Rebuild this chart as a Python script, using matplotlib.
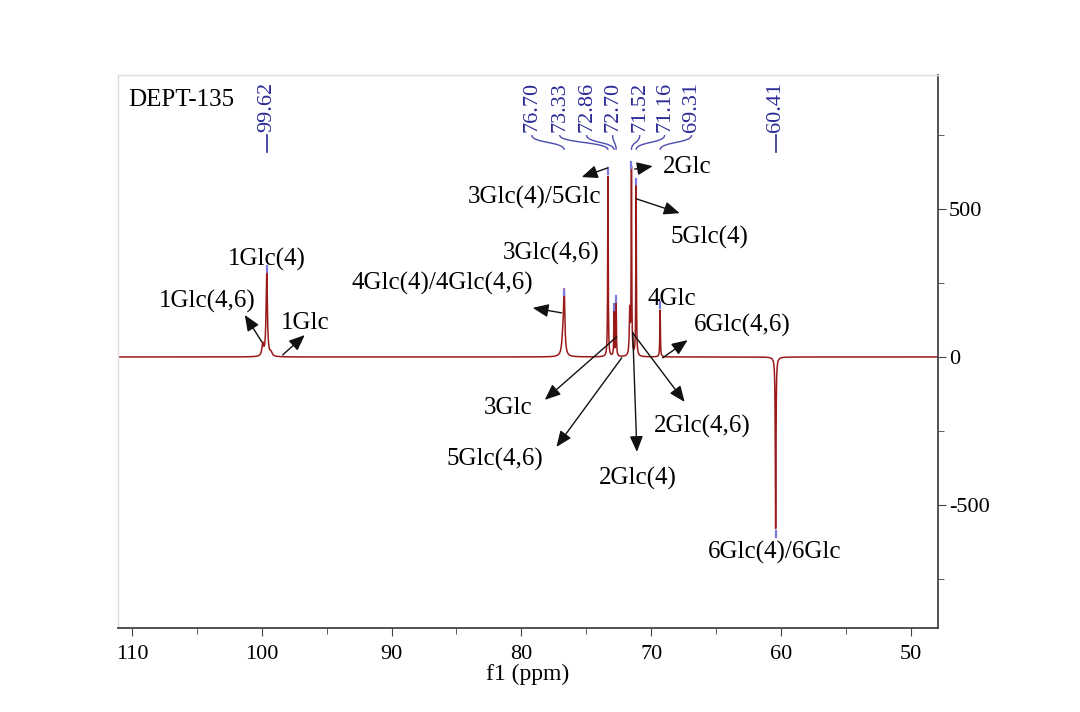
import numpy as np
import matplotlib
matplotlib.use("Agg")
import matplotlib.pyplot as plt
from matplotlib.path import Path
from matplotlib.patches import PathPatch

plt.rcParams['font.family'] = ['Liberation Serif', 'DejaVu Serif']
plt.rcParams['axes.unicode_minus'] = False

# ---- data: peaks (ppm, intensity, FWHM) ----
peak_ppm = [99.93, 99.62, 99.30, 76.80, 76.70, 73.33, 72.86, 72.70, 71.65, 71.52, 71.16, 69.31, 60.41]
peak_height = [40, 280, 12, 60, 200, 610, 150, 178, 150, 630, 575, 158, -580]
peak_fwhm = [0.15, 0.12, 0.2, 0.2, 0.12, 0.05, 0.05, 0.05, 0.08, 0.05, 0.05, 0.05, 0.06]

# picked peak labels (blue)
picked_ppm = [99.62, 76.70, 73.33, 72.86, 72.70, 71.52, 71.16, 69.31, 60.41]
picked_text = ["99.62", "76.70", "73.33", "72.86", "72.70", "71.52", "71.16", "69.31", "60.41"]
picked_height = [280, 200, 610, 150, 178, 630, 575, 158, -580]
# label x position (ppm) for the grouped labels
picked_label_x = [99.62, 79.20, 77.05, 74.97, 72.97, 70.88, 68.96, 66.88, 60.41]

# assignment annotations: text, text position, arrow tail, arrow head
ann_text = ["1Glc(4)", "1Glc(4,6)", "1Glc", "4Glc(4)/4Glc(4,6)", "3Glc(4,6)", "3Glc(4)/5Glc",
            "2Glc", "5Glc(4)", "4Glc", "6Glc(4,6)", "3Glc", "5Glc(4,6)", "2Glc(4)",
            "2Glc(4,6)", "6Glc(4)/6Glc"]
ann_pos = [(99.62, 328), (104.17, 186), (96.69, 115), (86.06, 250), (77.70, 351), (78.97, 540),
           (67.26, 642), (65.49, 405), (68.40, 195), (62.95, 108), (81.05, -172), (82.06, -348),
           (71.04, -409), (66.03, -236), (60.48, -659)]
ann_tail = [None, (100.0, 51), (98.39, 7), (76.89, 149), None, (73.35, 639),
            (71.27, 635), (71.11, 534), None, (69.11, -3), (72.66, 68), (72.27, -3),
            (71.42, 84), (71.42, 81), None]
ann_head = [None, (101.31, 142), (96.69, 74), (79.13, 166), None, (75.35, 608),
            (69.88, 645), (67.80, 486), None, (67.19, 57), (78.20, -145), (77.30, -304),
            (71.10, -321), (67.42, -152), None]

x_ticks = [110, 100, 90, 80, 70, 60, 50]
y_ticks = [-500, 0, 500]

# ---- spectrum from peak list ----
x = np.linspace(111.08, 47.9, 40000)
y = np.zeros_like(x)
for p, h, w in zip(peak_ppm, peak_height, peak_fwhm):
    hw = w / 2.0
    y += h * hw**2 / ((x - p)**2 + hw**2)

fig = plt.figure(figsize=(10.8, 7.12), dpi=100)
ax = fig.add_axes([118/1080, 1-628/712, (938-118)/1080, (628-75)/712])
ax.plot(x, y, color='#9a1a1a', lw=1.1)
ax.set_xlim(111.08, 47.9)
ax.set_ylim(-916, 953)

ax.set_xticks(x_ticks)
ax.set_xticks(np.arange(50, 111, 5), minor=True)
ax.yaxis.tick_right()
ax.set_yticks(y_ticks)
ax.set_yticks([-750, -250, 250, 750], minor=True)
ax.tick_params(axis='x', which='major', direction='out', length=6, labelsize=16, pad=6, color='#444444')
ax.tick_params(axis='x', which='minor', direction='out', length=4, color='#444444')
ax.tick_params(axis='y', which='major', direction='out', length=6, labelsize=16, pad=2, color='#444444')
ax.tick_params(axis='y', which='minor', direction='out', length=4, color='#444444')
ax.set_xlabel('f1 (ppm)', fontsize=17, labelpad=0)

for s in ['top', 'left']:
    ax.spines[s].set_color('#dcdcdc')
    ax.spines[s].set_linewidth(1.0)
for s in ['bottom', 'right']:
    ax.spines[s].set_color('#444444')
    ax.spines[s].set_linewidth(1.3)

ax.text(110.33, 868, 'DEPT-135', fontsize=18, ha='left', va='center')

# blue peak labels
blue = '#2a2a96'
for p, t, h, lx in zip(picked_ppm, picked_text, picked_height, picked_label_x):
    ax.text(lx, 760, t, rotation=90, fontsize=16, color=blue, ha='center', va='bottom')
    if abs(lx - p) < 0.01:
        ax.plot([p, p], [750, 693], color=blue, lw=1.2)
    else:
        verts = [(lx, 750), (lx, 722), (p, 728), (p, 700)]
        path = Path(verts, [Path.MOVETO, Path.CURVE4, Path.CURVE4, Path.CURVE4])
        ax.add_patch(PathPatch(path, fill=False, color='#4b4bb0', lw=1.0))
    # small marker at the peak tip
    if h > 0:
        ax.plot([p, p], [h + 8, h + 28], color='#7a7ae0', lw=1.6)
    else:
        ax.plot([p, p], [h - 8, h - 28], color='#7a7ae0', lw=1.6)

# assignments
for t, pos, tail, head in zip(ann_text, ann_pos, ann_tail, ann_head):
    ax.text(pos[0], pos[1], t, fontsize=18, ha='center', va='center')
    if tail is not None:
        ax.annotate('', xy=head, xytext=tail,
                    arrowprops=dict(arrowstyle='-|>,head_length=0.6,head_width=0.25',
                                    color='#111111', lw=1.0, shrinkA=0, shrinkB=0,
                                    mutation_scale=16))

fig.savefig('out.png', dpi=100)
